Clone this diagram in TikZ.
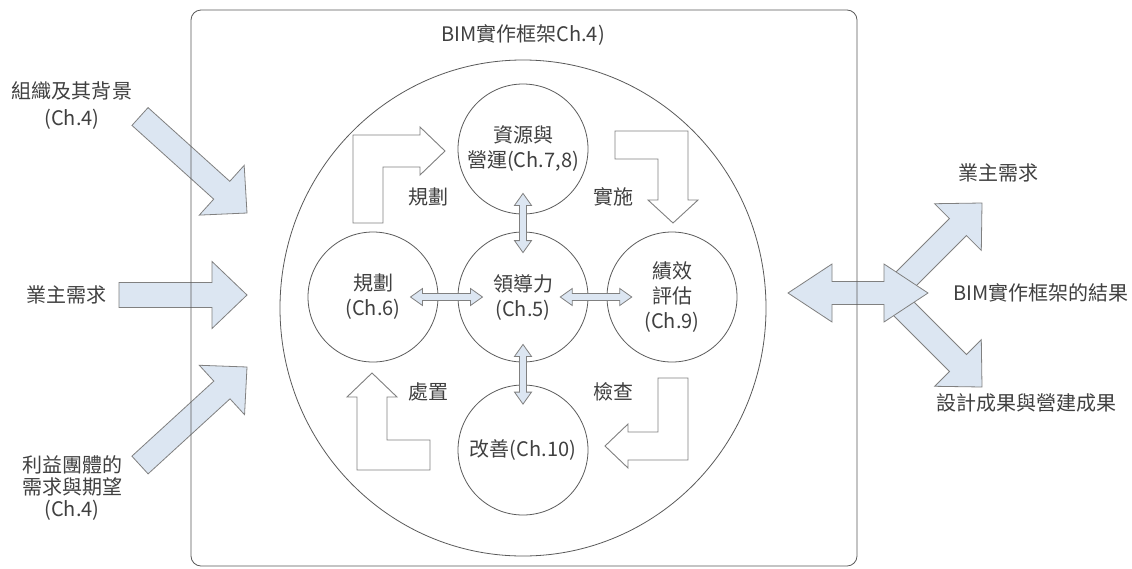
\documentclass[tikz,border=0pt]{standalone}
\usepackage{fontspec}
\newfontfamily\cjk{Noto Sans CJK TC}
\usetikzlibrary{calc}
\definecolor{bluefill}{HTML}{DCE6F2}
\definecolor{arrline}{HTML}{808080}
\definecolor{lineg}{HTML}{5A5A5A}
\definecolor{txt}{HTML}{404040}
\newcommand{\blockarr}[6]{%
  \coordinate (bh) at ($(#2)!#5!(#1)$);
  \draw[#6] ($(#1)!#3!90:(#2)$) -- ($(bh)!#3!90:(#2)$) -- ($(bh)!#4!90:(#2)$) -- (#2)
    -- ($(bh)!#4!-90:(#2)$) -- ($(bh)!#3!-90:(#2)$) -- ($(#1)!#3!-90:(#2)$) -- cycle;}
\newcommand{\dblarr}[6]{%
  \coordinate (dha) at ($(#1)!#5!(#2)$);
  \coordinate (dhb) at ($(#2)!#5!(#1)$);
  \draw[#6] (#1) -- ($(dha)!#4!90:(#2)$) -- ($(dha)!#3!90:(#2)$) -- ($(dhb)!#3!90:(#2)$)
    -- ($(dhb)!#4!90:(#2)$) -- (#2) -- ($(dhb)!#4!-90:(#2)$) -- ($(dhb)!#3!-90:(#2)$)
    -- ($(dha)!#3!-90:(#2)$) -- ($(dha)!#4!-90:(#2)$) -- cycle;}
\tikzset{
  bluearr/.style={draw=arrline, fill=bluefill, line width=0.8pt, line join=miter},
  whitearr/.style={draw=arrline, fill=white, line width=0.9pt, line join=miter},
  circ/.style={circle, draw=lineg, line width=0.8pt, minimum size=130pt, inner sep=0pt,
    align=center, text=txt, font=\cjk\fontsize{20}{25}\selectfont},
  lbl/.style={text=txt, inner sep=0pt, align=center, font=\cjk\fontsize{20}{25}\selectfont},
}
\begin{document}
\begin{tikzpicture}[x=1pt, y=-1pt]
\useasboundingbox (0,0) rectangle (1132,568);
\fill[white] (0,0) rectangle (1132,568);

% big frame ellipse
\draw[lineg, line width=0.8pt] (523,308) ellipse [x radius=243pt, y radius=248pt];

% circles
\node[circ] (res)  at (523,149) {資源與\\營運(Ch.7,8)};
\node[circ] (lead) at (523,297) {領導力\\(Ch.5)};
\node[circ] (plan) at (373,297) {規劃\\(Ch.6)};
\node[circ] (perf) at (672,297) {績效\\評估\\(Ch.9)};
\node[circ] (imp)  at (523,450) {改善(Ch.10)};

% small double arrows
\coordinate (a1) at ($(plan)!0.25!(lead)$); \coordinate (a2) at ($(plan)!0.73!(lead)$);
\coordinate (b1) at ($(lead)!0.25!(perf)$); \coordinate (b2) at ($(lead)!0.73!(perf)$);
\coordinate (c1) at ($(res)!0.30!(lead)$);  \coordinate (c2) at ($(res)!0.70!(lead)$);
\coordinate (d1) at ($(lead)!0.31!(imp)$);  \coordinate (d2) at ($(lead)!0.70!(imp)$);
\dblarr{a1}{a2}{3.5pt}{8.5pt}{12pt}{bluearr}
\dblarr{b1}{b2}{3.5pt}{8.5pt}{12pt}{bluearr}
\dblarr{c1}{c2}{3.5pt}{8.5pt}{12pt}{bluearr}
\dblarr{d1}{d2}{3.5pt}{8.5pt}{12pt}{bluearr}

% bent arrows (PDCA cycle)
\draw[whitearr] (383,223) -- (383,167) -- (420,167) -- (420,175) -- (445,151) -- (420,127)
  -- (420,135) -- (353,135) -- (353,223) -- cycle;
\draw[whitearr] (615,131) -- (688,131) -- (688,200) -- (698,200) -- (673,223) -- (648,200)
  -- (658,200) -- (658,159) -- (615,159) -- cycle;
\draw[whitearr] (658,378) -- (688,378) -- (688,460) -- (628,460) -- (628,468) -- (605,446)
  -- (628,424) -- (628,432) -- (658,432) -- cycle;
\draw[whitearr] (430,440) -- (387,440) -- (387,397) -- (397,397) -- (372,373) -- (347,397)
  -- (357,397) -- (357,470) -- (430,470) -- cycle;

\node[lbl] (tplan) at (428,197) {規劃};
\node[lbl] (timpl) at (613,197) {實施};
\node[lbl] (tact)  at (428,392) {處置};
\node[lbl] (tchk)  at (613,392) {檢查};

% left input arrows
\coordinate (s1) at (140,116.5); \coordinate (t1) at (247,213);
\coordinate (s2) at (119,295);   \coordinate (t2) at (247,295);
\coordinate (s3) at (140,465);   \coordinate (t3) at (247,367);
\blockarr{s1}{t1}{12pt}{33.5pt}{34pt}{bluearr}
\blockarr{s2}{t2}{12.5pt}{33.5pt}{35pt}{bluearr}
\blockarr{s3}{t3}{12pt}{33.5pt}{34pt}{bluearr}

% right output arrows
\coordinate (u1) at (895,290); \coordinate (v1) at (982,203);
\coordinate (u2) at (895,300); \coordinate (v2) at (982,387);
\blockarr{u1}{v1}{12pt}{33pt}{34pt}{bluearr}
\blockarr{u2}{v2}{12pt}{33pt}{34pt}{bluearr}
\coordinate (w1) at (788,293); \coordinate (w2) at (928,293);
\dblarr{w1}{w2}{11.5pt}{29pt}{44pt}{bluearr}

% outer frame
\draw[lineg, line width=0.8pt, rounded corners=10pt] (191,10) rectangle (857,566);

% texts
\node[lbl] (title) at (523,35) {BIM實作框架Ch.4)};
\node[lbl, font=\cjk\fontsize{20}{27}\selectfont] (org) at (72,106) {組織及其背景\\(Ch.4)};
\node[lbl] (own) at (66,295) {業主需求};
\node[lbl, font=\cjk\fontsize{20}{22}\selectfont] (stk) at (72,488) {利益團體的\\需求與期望\\(Ch.4)};
\node[lbl] (rown) at (998,173) {業主需求};
\node[lbl] (rres) at (1041,293) {BIM實作框架的結果};
\node[lbl] (rdes) at (1026,403) {設計成果與營建成果};
\end{tikzpicture}
\end{document}
